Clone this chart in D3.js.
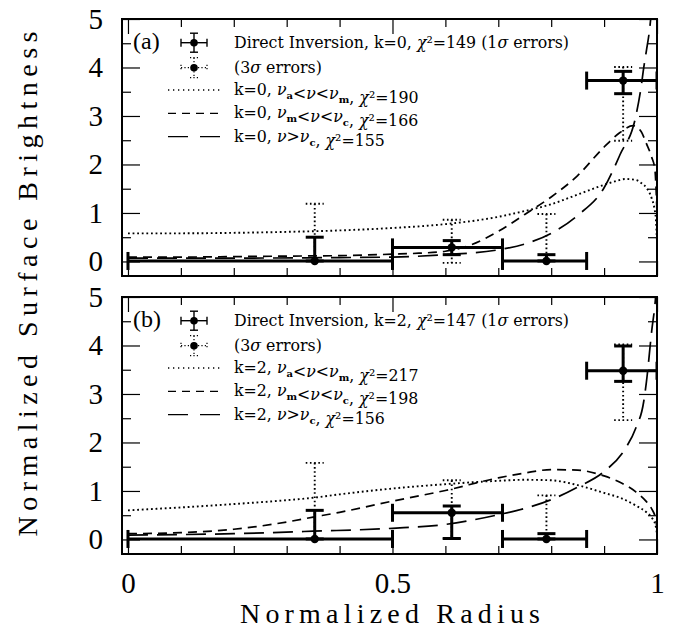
<!DOCTYPE html>
<html><head><meta charset="utf-8">
<script src="https://cdn.jsdelivr.net/npm/d3@7"></script>
<style>
body{margin:0;background:#fff}svg{display:block}
.ser{font-family:"Liberation Serif","Times New Roman",serif !important;}
.leg{font-family:"DejaVu Serif",serif;}
</style>
</head><body><svg id="c" width="681" height="630"></svg>
<script>
// ---------------- DATA ----------------
const panelTags = ["(a)", "(b)"];
const yTicks = [0, 1, 2, 3, 4, 5];
const xTickLabels = [0, 0.5, 1];

const binLo = [0, 0.5, 0.708, 0.867];
const binHi = [0.5, 0.708, 0.867, 1.0];
const ptX   = [0.353, 0.612, 0.791, 0.936];

const k0Val = [0.01, 0.29, 0.01, 3.73];
const k0Up1 = [0.50, 0.43, 0.14, 3.92];
const k0Lo1 = [0.01, 0.14, 0.01, 3.46];
const k0Up3 = [1.19, 0.86, 0.98, 4.01];
const k0Lo3 = [0.01, -0.03, 0.01, 2.49];

const k2Val = [0.01, 0.55, 0.01, 3.48];
const k2Up1 = [0.60, 0.69, 0.12, 3.99];
const k2Lo1 = [0.01, 0.02, 0.01, 3.26];
const k2Up3 = [1.58, 1.22, 0.91, 4.02];
const k2Lo3 = [0.01, 0.02, 0.01, 2.46];

const k0DotX = [0,0.1,0.2,0.3,0.4,0.5,0.6,0.7,0.75,0.8,0.85,0.9,0.92,0.94,0.96,0.97,0.98,0.99,0.995,0.998,1.0];
const k0DotY = [0.58,0.58,0.59,0.61,0.64,0.69,0.77,0.92,1.04,1.18,1.38,1.58,1.65,1.70,1.68,1.62,1.52,1.30,1.10,0.85,0.4];
const k0DashX = [0,0.1,0.2,0.3,0.4,0.5,0.55,0.6,0.65,0.7,0.75,0.8,0.85,0.9,0.93,0.955,0.97,0.98,0.99,0.996,1.0];
const k0DashY = [0.09,0.09,0.10,0.11,0.12,0.15,0.17,0.21,0.35,0.62,0.97,1.33,1.77,2.36,2.66,2.80,2.68,2.43,2.15,1.9,1.0];
const k0LongX = [0,0.2,0.4,0.5,0.6,0.7,0.75,0.8,0.85,0.9,0.93,0.96,0.97,0.975,0.98,0.985,0.99];
const k0LongY = [0.07,0.07,0.08,0.09,0.14,0.24,0.36,0.58,0.95,1.52,2.2,3.0,3.6,4.0,4.35,4.7,5.2];

const k2DotX = [0,0.1,0.2,0.3,0.35,0.4,0.5,0.6,0.7,0.75,0.8,0.85,0.9,0.93,0.96,0.98,0.99,0.997,1.0];
const k2DotY = [0.60,0.66,0.73,0.81,0.86,0.93,1.05,1.14,1.21,1.23,1.22,1.12,0.96,0.86,0.70,0.56,0.45,0.3,0.12];
const k2DashX = [0,0.1,0.2,0.3,0.35,0.4,0.5,0.6,0.7,0.75,0.8,0.85,0.9,0.93,0.96,0.98,0.99,0.998,1.0];
const k2DashY = [0.12,0.14,0.21,0.36,0.46,0.56,0.79,1.01,1.27,1.37,1.44,1.43,1.31,1.18,0.98,0.78,0.63,0.4,0.2];
const k2LongX = [0,0.2,0.35,0.5,0.6,0.7,0.75,0.8,0.85,0.9,0.94,0.96,0.975,0.98,0.99,0.997,1.0];
const k2LongY = [0.09,0.12,0.17,0.23,0.31,0.51,0.64,0.82,1.08,1.40,1.87,2.3,2.85,3.25,4.3,4.95,5.4];

const k0Legend = ["Direct Inversion, k=0, χ²=149 (1σ errors)", "(3σ errors)",
  "k=0, ν_a<ν<ν_m, χ²=190", "k=0, ν_m<ν<ν_c, χ²=166", "k=0, ν>ν_c, χ²=155"];
const k2Legend = ["Direct Inversion, k=2, χ²=147 (1σ errors)", "(3σ errors)",
  "k=2, ν_a<ν<ν_m, χ²=217", "k=2, ν_m<ν<ν_c, χ²=198", "k=2, ν>ν_c, χ²=156"];

const xTitle = "Normalized Radius";
const yTitle = "Normalized Surface Brightness";

// ---------------- LAYOUT ----------------
const svg = d3.select("#c");
const L = 122, R = 657, PH = 257;
const panelTop = [19, 297];
const x = d3.scaleLinear().domain([-0.0113, 1]).range([L, R]);

const series = [
  {val:k0Val, up1:k0Up1, lo1:k0Lo1, up3:k0Up3, lo3:k0Lo3,
   curves:[[k0DotX,k0DotY],[k0DashX,k0DashY],[k0LongX,k0LongY]], legend:k0Legend},
  {val:k2Val, up1:k2Up1, lo1:k2Lo1, up3:k2Up3, lo3:k2Lo3,
   curves:[[k2DotX,k2DotY],[k2DashX,k2DashY],[k2LongX,k2LongY]], legend:k2Legend}
];
const dashes = ["1.8,2.8", "9,6", "20,9"];

function legendText(g, str, xx, yy) {
  const t = g.append("text").attr("class", "leg").attr("x", xx).attr("y", yy)
    .attr("font-size", 15.8).attr("fill", "#000");
  let i = 0, buf = "";
  const flush = () => { if (buf) { t.append("tspan").text(buf); buf = ""; } };
  while (i < str.length) {
    const ch = str[i];
    if (ch === "_") {
      flush();
      t.append("tspan").attr("dy", 4).attr("font-size", 10).attr("font-weight", "bold").text(str[i+1]);
      t.append("tspan").attr("dy", -4).text("");
      i += 2; continue;
    }
    if ("χσν".includes(ch)) {
      flush();
      t.append("tspan").attr("font-style", "italic").text(ch);
      i++; continue;
    }
    buf += ch; i++;
  }
  flush();
}

series.forEach((s, p) => {
  const top = panelTop[p], bot = top + PH;
  const y = d3.scaleLinear().domain([-0.3, 5]).range([bot, top]);
  const g = svg.append("g");

  const clipId = "clip" + p;
  svg.append("clipPath").attr("id", clipId).append("rect")
    .attr("x", L).attr("y", top).attr("width", R - L).attr("height", PH);

  // curves
  const line = d3.line().x(d => x(d[0])).y(d => y(d[1])).curve(d3.curveMonotoneX);
  const cg = g.append("g").attr("clip-path", `url(#${clipId})`);
  s.curves.forEach((c, ci) => {
    const pts = c[0].map((xv, k) => [xv, c[1][k]]);
    cg.append("path").attr("d", line(pts)).attr("fill", "none").attr("stroke", "#000")
      .attr("stroke-width", ci === 0 ? 1.9 : 1.7).attr("stroke-dasharray", dashes[ci]);
  });

  // axes ticks
  const minorX = d3.range(0, 1.0001, 0.1).filter(v => Math.abs(v - 0.5) > 1e-6 && v > 1e-6 && v < 0.9999);
  const majorX = xTickLabels;
  const minorY = d3.range(0, 5.0001, 0.5).filter(v => Math.abs(v - Math.round(v)) > 1e-6);
  const styleAxis = sel => { sel.select(".domain").remove(); sel.attr("font-family", null).attr("font-size", null);
    sel.selectAll("line").attr("stroke", "#000").attr("stroke-width", 1.2); };

  g.append("g").attr("transform", `translate(0,${bot})`)
    .call(d3.axisBottom(x).tickValues(minorX).tickSizeInner(-8).tickSizeOuter(0).tickFormat("")).call(styleAxis);
  g.append("g").attr("transform", `translate(0,${top})`)
    .call(d3.axisTop(x).tickValues(minorX).tickSizeInner(-8).tickSizeOuter(0).tickFormat("")).call(styleAxis);
  g.append("g").attr("transform", `translate(0,${top})`)
    .call(d3.axisTop(x).tickValues(majorX).tickSizeInner(-15).tickSizeOuter(0).tickFormat("")).call(styleAxis);
  const bx = g.append("g").attr("transform", `translate(0,${bot})`)
    .call(d3.axisBottom(x).tickValues(majorX).tickSizeInner(-15).tickSizeOuter(0).tickPadding(18)
      .tickFormat(p === 1 ? (d => d3.format("~g")(d)) : "")).call(styleAxis);
  bx.selectAll("text").attr("class", "ser").attr("font-size", 29).attr("fill", "#000");

  const ly = g.append("g").attr("transform", `translate(${L},0)`)
    .call(d3.axisLeft(y).tickValues(yTicks).tickSizeInner(-18).tickSizeOuter(0).tickPadding(19)
      .tickFormat(d3.format("d"))).call(styleAxis);
  ly.selectAll("text").attr("class", "ser").attr("font-size", 29).attr("fill", "#000");
  g.append("g").attr("transform", `translate(${L},0)`)
    .call(d3.axisLeft(y).tickValues(minorY).tickSizeInner(-9).tickSizeOuter(0).tickFormat("")).call(styleAxis);
  g.append("g").attr("transform", `translate(${R},0)`)
    .call(d3.axisRight(y).tickValues(yTicks).tickSizeInner(-18).tickSizeOuter(0).tickFormat("")).call(styleAxis);
  g.append("g").attr("transform", `translate(${R},0)`)
    .call(d3.axisRight(y).tickValues(minorY).tickSizeInner(-9).tickSizeOuter(0).tickFormat("")).call(styleAxis);

  // frame
  g.append("rect").attr("x", L).attr("y", top).attr("width", R - L).attr("height", PH)
    .attr("fill", "none").attr("stroke", "#000").attr("stroke-width", 2);

  // error bars
  const eg = g.append("g").attr("clip-path", `url(#${clipId})`);
  const capW = 9;
  ptX.forEach((xv, i) => {
    const cx = x(xv);
    const d3s = eg.append("g").attr("stroke", "#000").attr("stroke-width", 1.9).attr("stroke-dasharray", "1.6,2.6");
    d3s.append("line").attr("x1", cx).attr("x2", cx).attr("y1", y(s.up3[i])).attr("y2", y(s.lo3[i]));
    [s.up3[i], s.lo3[i]].forEach(v => d3s.append("line").attr("x1", cx - capW).attr("x2", cx + capW).attr("y1", y(v)).attr("y2", y(v)));
    const d1 = eg.append("g").attr("stroke", "#000").attr("stroke-width", 3);
    d1.append("line").attr("x1", cx).attr("x2", cx).attr("y1", y(s.up1[i])).attr("y2", y(s.lo1[i]));
    [s.up1[i], s.lo1[i]].forEach(v => d1.append("line").attr("x1", cx - capW).attr("x2", cx + capW).attr("y1", y(v)).attr("y2", y(v)));
    const yy = y(s.val[i]);
    d1.append("line").attr("x1", x(binLo[i])).attr("x2", x(binHi[i])).attr("y1", yy).attr("y2", yy);
    [binLo[i], binHi[i]].forEach(v => d1.append("line").attr("x1", x(v)).attr("x2", x(v)).attr("y1", yy - 9).attr("y2", yy + 9));
    eg.append("circle").attr("cx", cx).attr("cy", yy).attr("r", 4.2).attr("fill", "#000");
  });

  // panel tag
  g.append("text").attr("class", "ser").attr("x", 133).attr("y", top + 30)
    .attr("font-size", 24).attr("fill", "#000").text(panelTags[p]);

  // legend
  const rows = [23.7, 48.7, 71, 94.3, 117.7].map(v => top + v);
  const lg = g.append("g");
  const sx = 194;
  const s1 = lg.append("g").attr("stroke", "#000").attr("stroke-width", 1.4);
  let cy = rows[0];
  s1.append("line").attr("x1", sx - 13).attr("x2", sx + 13).attr("y1", cy).attr("y2", cy);
  s1.append("line").attr("x1", sx - 13).attr("x2", sx - 13).attr("y1", cy - 4).attr("y2", cy + 4);
  s1.append("line").attr("x1", sx + 13).attr("x2", sx + 13).attr("y1", cy - 4).attr("y2", cy + 4);
  s1.append("line").attr("x1", sx).attr("x2", sx).attr("y1", cy - 9.5).attr("y2", cy + 9.5);
  s1.append("line").attr("x1", sx - 4).attr("x2", sx + 4).attr("y1", cy - 9.5).attr("y2", cy - 9.5);
  s1.append("line").attr("x1", sx - 4).attr("x2", sx + 4).attr("y1", cy + 9.5).attr("y2", cy + 9.5);
  lg.append("circle").attr("cx", sx).attr("cy", cy).attr("r", 3.8).attr("fill", "#000");
  cy = rows[1];
  const s2 = lg.append("g").attr("stroke", "#000").attr("stroke-width", 1.2).attr("stroke-dasharray", "1.2,2.2");
  s2.append("line").attr("x1", sx - 13).attr("x2", sx + 13).attr("y1", cy).attr("y2", cy);
  s2.append("line").attr("x1", sx - 13).attr("x2", sx - 13).attr("y1", cy - 3).attr("y2", cy + 3);
  s2.append("line").attr("x1", sx + 13).attr("x2", sx + 13).attr("y1", cy - 3).attr("y2", cy + 3);
  s2.append("line").attr("x1", sx).attr("x2", sx).attr("y1", cy - 10).attr("y2", cy + 10);
  s2.append("line").attr("x1", sx - 4).attr("x2", sx + 4).attr("y1", cy - 10).attr("y2", cy - 10);
  s2.append("line").attr("x1", sx - 4).attr("x2", sx + 4).attr("y1", cy + 10).attr("y2", cy + 10);
  lg.append("circle").attr("cx", sx).attr("cy", cy).attr("r", 3.8).attr("fill", "#000");
  [2, 3, 4].forEach((r, k) => {
    lg.append("line").attr("x1", 168).attr("x2", 220).attr("y1", rows[r]).attr("y2", rows[r])
      .attr("stroke", "#000").attr("stroke-width", 1.3).attr("stroke-dasharray", ["1.3,3.7", "8,6", "20,12"][k]);
  });
  s.legend.forEach((str, r) => legendText(lg, str, 234, rows[r] + 5));
});

// titles
svg.append("text").attr("class", "ser").attr("x", 390).attr("y", 623).attr("text-anchor", "middle")
  .attr("font-size", 28).attr("textLength", 300).attr("lengthAdjust", "spacing")
  .attr("fill", "#000").text(xTitle);
svg.append("text").attr("class", "ser").attr("transform", "translate(37,284) rotate(-90)").attr("text-anchor", "middle")
  .attr("font-size", 28).attr("textLength", 505).attr("lengthAdjust", "spacing")
  .attr("fill", "#000").text(yTitle);
</script></body></html>
